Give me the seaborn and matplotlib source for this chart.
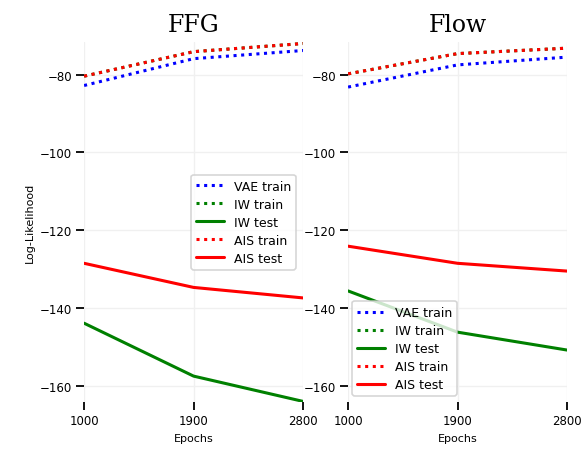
import numpy as np
import pandas as pd
import matplotlib
matplotlib.use("Agg")
import matplotlib.pyplot as plt
import seaborn as sns

# ── DATA ──────────────────────────────────────────────────────
epochs = [1000, 1900, 2800]

ffg_vae_train = [-82.8, -75.9, -73.8]
ffg_iw_train  = [-80.4, -74.1, -72.0]
ffg_iw_test   = [-143.9, -157.5, -164.0]
ffg_ais_train = [-80.4, -74.1, -72.0]
ffg_ais_test  = [-128.5, -134.7, -137.4]

flow_vae_train = [-83.2, -77.5, -75.5]
flow_iw_train  = [-79.8, -74.6, -73.2]
flow_iw_test   = [-135.6, -146.2, -150.8]
flow_ais_train = [-79.8, -74.6, -73.2]
flow_ais_test  = [-124.1, -128.5, -130.5]

series_names = ["VAE train", "IW train", "IW test", "AIS train", "AIS test"]
colors  = {"VAE train": "blue", "IW train": "green", "IW test": "green",
           "AIS train": "red", "AIS test": "red"}
dashes  = {"VAE train": (1, 1.5), "IW train": (1, 1.5), "IW test": "",
           "AIS train": (1, 1.5), "AIS test": ""}

panels = {
    "FFG":  [ffg_vae_train, ffg_iw_train, ffg_iw_test, ffg_ais_train, ffg_ais_test],
    "Flow": [flow_vae_train, flow_iw_train, flow_iw_test, flow_ais_train, flow_ais_test],
}

# ── STYLE ─────────────────────────────────────────────────────
sns.set_style("whitegrid", {"grid.color": "#f2f2f2", "axes.edgecolor": "white",
                            "text.color": "black", "axes.labelcolor": "black",
                            "xtick.color": "black", "ytick.color": "black"})
plt.rcParams["font.family"] = ["DejaVu Sans"]

fig = plt.figure(figsize=(5.84, 4.52), dpi=100)
axes = [fig.add_axes([0.144, 0.108, 0.375, 0.797]),
        fig.add_axes([0.596, 0.108, 0.375, 0.797])]

legend_locs = {"FFG": dict(loc="center left", bbox_to_anchor=(0.46, 0.50)),
               "Flow": dict(loc="lower left", bbox_to_anchor=(-0.01, 0.0))}

for ax, (title, vals) in zip(axes, panels.items()):
    df = pd.DataFrame({"Epochs": epochs * len(series_names),
                       "ll": np.concatenate(vals),
                       "series": np.repeat(series_names, len(epochs))})
    sns.lineplot(data=df, x="Epochs", y="ll", hue="series", style="series",
                 palette=colors, dashes=dashes, linewidth=2.2, ax=ax)
    ax.set_xlim(1000, 2800)
    ax.set_ylim(-164.2, -71.6)
    ax.set_xticks(epochs)
    ax.set_yticks([-80, -100, -120, -140, -160])
    ax.tick_params(axis="both", which="major", direction="out", length=5.5,
                   width=1.3, color="black", labelcolor="black", labelsize=8.5,
                   pad=3, bottom=True, left=True)
    ax.set_title(title, fontsize=17, family="DejaVu Serif", pad=8, color="black")
    ax.set_xlabel("Epochs", fontsize=8)
    for s in ax.spines.values():
        s.set_visible(False)
    ax.grid(True, color="#f0f0f0", lw=1)
    leg = ax.legend(fontsize=9, frameon=True, framealpha=0.8,
                    handlelength=2.2, borderpad=0.4, labelspacing=0.4,
                    **legend_locs[title])
    leg.get_frame().set_edgecolor("#cccccc")
    leg.get_frame().set_linewidth(1.2)
    for t in leg.get_texts():
        t.set_color("black")

axes[0].set_ylabel("Log-Likelihood", fontsize=8)
axes[1].set_ylabel("")

fig.savefig("out.png", dpi=100)
